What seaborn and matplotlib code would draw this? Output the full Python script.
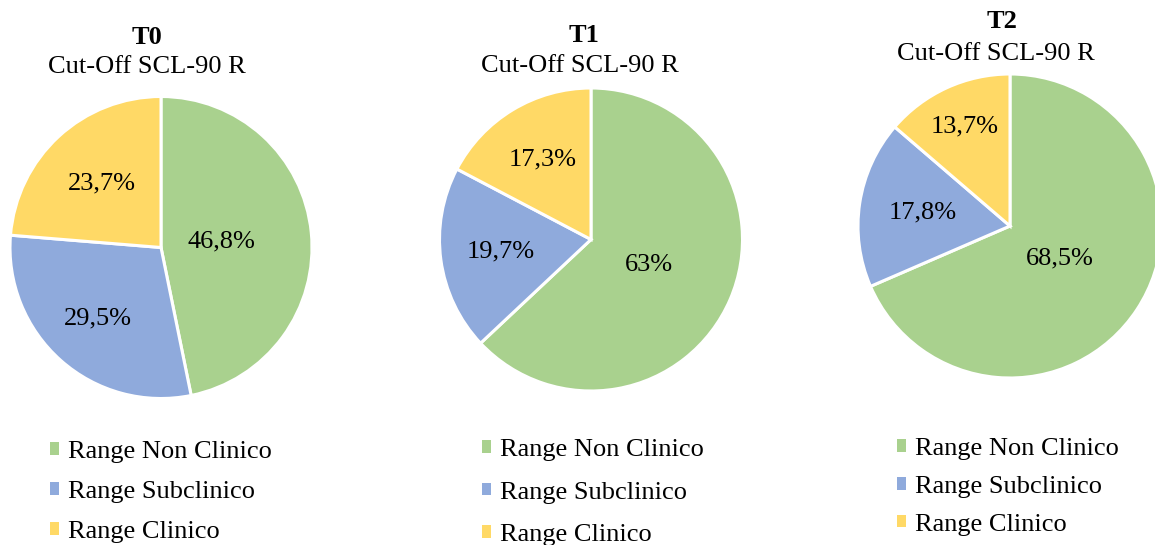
import matplotlib
matplotlib.use("Agg")
import numpy as np
import matplotlib.pyplot as plt
from matplotlib.patches import Patch
import seaborn as sns

# Data
categories = ["Range Non Clinico", "Range Subclinico", "Range Clinico"]
times = ["T0", "T1", "T2"]
subtitle = "Cut-Off SCL-90 R"
t0_values = [46.8, 29.5, 23.7]
t1_values = [63.0, 19.7, 17.3]
t2_values = [68.5, 17.8, 13.7]
series = [t0_values, t1_values, t2_values]

palette = sns.color_palette(["#A9D18E", "#8FAADC", "#FFD966"])

sns.set_theme(style="white")
plt.rcParams["font.family"] = ["Liberation Serif", "DejaVu Serif"]
plt.rcParams["text.color"] = "black"

W, H = 1155, 545
fig = plt.figure(figsize=(W / 100, H / 100), dpi=100)
FS = 19

# Pixel layout for each pie panel
layouts = [
    dict(center=(161, 247.5), r=151, title=(147, 37), sub=(147, 67),
         label_r=[0.40, 0.63, 0.58], legend=(50, 441), spacing=0.68),
    dict(center=(591, 239.5), r=151.5, title=(584, 36), sub=(580, 66),
         label_r=[0.42, 0.60, 0.62], legend=(482, 439), spacing=0.78),
    dict(center=(1010, 226), r=152, title=(1002, 22), sub=(996, 54),
         label_r=[0.39, 0.58, 0.72], legend=(897, 438), spacing=0.60),
]


def fmt(v):
    s = f"{v:.1f}".replace(".", ",")
    if s.endswith(",0"):
        s = s[:-2]
    return s + "%"


m = 1.05
for t, values, lay in zip(times, series, layouts):
    cx, cy = lay["center"]
    r = lay["r"]
    ax = fig.add_axes([(cx - r * m) / W, (H - cy - r * m) / H,
                       2 * r * m / W, 2 * r * m / H])
    wedges, _ = ax.pie(values, colors=palette, startangle=90, counterclock=False,
                       wedgeprops=dict(edgecolor="white", linewidth=2.2))
    ax.set_xlim(-m, m)
    ax.set_ylim(-m, m)
    ax.set_aspect("equal")
    for w, v, lr in zip(wedges, values, lay["label_r"]):
        ang = np.deg2rad((w.theta1 + w.theta2) / 2)
        ax.text(lr * np.cos(ang), lr * np.sin(ang), fmt(v),
                ha="center", va="center", fontsize=FS, color="black")

    tx, ty = lay["title"]
    fig.text(tx / W, 1 - ty / H, t, ha="center", va="center",
             fontsize=FS, fontweight="bold", color="black")
    sx, sy = lay["sub"]
    fig.text(sx / W, 1 - sy / H, subtitle, ha="center", va="center",
             fontsize=FS, color="black")

    handles = [Patch(facecolor=c, edgecolor="none") for c in palette]
    lx, ly = lay["legend"]
    leg = fig.legend(handles=handles, labels=categories, loc="upper left",
                     bbox_to_anchor=(lx / W, 1 - ly / H), frameon=False,
                     fontsize=FS, handlelength=0.35, handleheight=0.35,
                     handletextpad=0.35, labelspacing=lay["spacing"],
                     borderpad=0, borderaxespad=0)
    for txt in leg.get_texts():
        txt.set_color("black")

fig.savefig("out.png", dpi=100, facecolor="white")
